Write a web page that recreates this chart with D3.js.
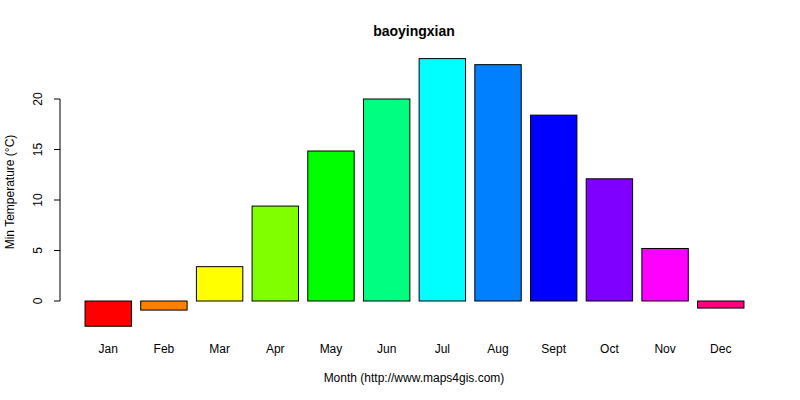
<!DOCTYPE html>
<html><head><meta charset="utf-8">
<script src="https://cdn.jsdelivr.net/npm/d3@7"></script>
<style>body{margin:0;background:#fff}text{font-family:"Liberation Sans",Arial,sans-serif;font-size:12px}</style>
</head><body><svg id="c" width="800" height="400"></svg>
<script>
const months=["Jan","Feb","Mar","Apr","May","Jun","Jul","Aug","Sept","Oct","Nov","Dec"];
const values=[-2.5,-0.9,3.4,9.4,14.85,20.0,24.0,23.4,18.4,12.1,5.2,-0.7];
const colors=["#FF0000","#FF8000","#FFFF00","#80FF00","#00FF00","#00FF80","#00FFFF","#0080FF","#0000FF","#8000FF","#FF00FF","#FF0080"];
const yTicks=[0,5,10,15,20];
const svg=d3.select("#c");
const x=d3.scaleBand().domain(months).range([80.4,748.6]).paddingInner(1/6).paddingOuter(1/12);
const y=d3.scaleLinear().domain([0,20]).range([301,99]);
svg.selectAll("rect").data(values).join("rect")
 .attr("x",(d,i)=>x(months[i])).attr("width",x.bandwidth())
 .attr("y",d=>y(Math.max(0,d))).attr("height",d=>Math.abs(y(d)-y(0)))
 .attr("fill",(d,i)=>colors[i]).attr("stroke","#000").attr("stroke-width",1);
const g=svg.append("g");
g.append("line").attr("x1",60).attr("x2",60).attr("y1",y(0)).attr("y2",y(20)).attr("stroke","#000");
yTicks.forEach(t=>{
 g.append("line").attr("x1",54).attr("x2",60).attr("y1",y(t)).attr("y2",y(t)).attr("stroke","#000");
 g.append("text").attr("transform",`translate(42,${y(t)}) rotate(-90)`).attr("text-anchor","middle").text(t);
});
months.forEach(m=>svg.append("text").attr("x",x(m)+x.bandwidth()/2).attr("y",353).attr("text-anchor","middle").text(m));
svg.append("text").attr("x",414).attr("y",36).attr("text-anchor","middle").style("font-weight","bold").style("font-size","14px").text("baoyingxian");
svg.append("text").attr("x",414).attr("y",382).attr("text-anchor","middle").text("Month (http://www.maps4gis.com)");
svg.append("text").attr("transform","translate(14,192) rotate(-90)").attr("text-anchor","middle").text("Min Temperature (°C)");
</script></body></html>
